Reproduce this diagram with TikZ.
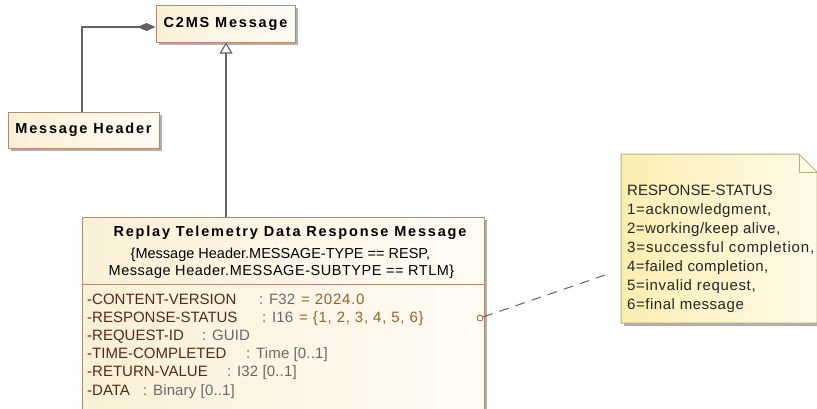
\documentclass[tikz,border=0pt]{standalone}
\usepackage{fontspec}
\setmainfont{Liberation Sans}
\newfontfamily\spfont[LetterSpace=12.5]{Liberation Sans}
\usetikzlibrary{arrows.meta,shadows}
\definecolor{boxL}{RGB}{251,240,214}
\definecolor{boxR}{RGB}{255,252,246}
\definecolor{boxB}{RGB}{178,140,110}
\definecolor{noteL}{RGB}{252,238,176}
\definecolor{noteR}{RGB}{255,251,234}
\definecolor{noteB}{RGB}{190,175,120}
\definecolor{lineg}{RGB}{100,100,100}
\definecolor{namec}{RGB}{90,40,25}
\definecolor{typec}{RGB}{105,105,105}
\definecolor{valc}{RGB}{160,95,40}
\definecolor{shad}{RGB}{175,175,175}
\tikzset{
  umlbox/.style={draw=boxB, line width=1pt, left color=boxL, right color=boxR, inner sep=0pt,
    drop shadow={shadow xshift=3pt, shadow yshift=-3pt, fill=shad, opacity=1}},
  titlef/.style={font={\spfont\bfseries\fontsize{14.5}{17}\selectfont}, text=black},
  regf/.style={font={\fontsize{14.5}{17}\selectfont\addfontfeature{LetterSpace=#1}}, inner sep=0pt, anchor=base},
  regf/.default=0,
  attrn/.style={font={\fontsize{15}{17}\selectfont}, text=namec, inner sep=0pt, anchor=base west},
  attrt/.style={font={\fontsize{15}{17}\selectfont\addfontfeature{LetterSpace=1}}, text=typec, inner sep=0pt, anchor=base west},
  attrv/.style={font={\fontsize{15}{17}\selectfont\addfontfeature{LetterSpace=5}}, text=valc, inner sep=0pt, anchor=base west},
  notet/.style={font={\fontsize{15}{17}\selectfont\addfontfeature{LetterSpace=#1}}, text=black!85, inner sep=0pt, anchor=base west},
  notet/.default=0,
  conn/.style={draw=lineg, line width=1.1pt},
}
\begin{document}
\begin{tikzpicture}[x=1pt,y=-1pt]
\useasboundingbox (0,0) rectangle (817,408);
% boxes
\node[umlbox, titlef, minimum width=139pt, minimum height=37pt] (c2ms) at (225.5,23.5) {C2MS Message};
\node[umlbox, titlef, minimum width=151pt, minimum height=36pt] (mh) at (83.5,130) {Message Header};
\node[umlbox, minimum width=402pt, minimum height=200pt] (rep) at (283,317) {};
\coordinate (sepy) at (0,284);
\draw[boxB, line width=1pt] (rep.west |- sepy) -- (rep.east |- sepy);
\node[titlef, inner sep=0pt, anchor=base] (rt) at (290,236.5) {Replay Telemetry Data Response Message};
\node[regf] (c1) at (280.5,258) {\{Message Header.MESSAGE-TYPE == RESP,};
\node[regf=3.7] (c2) at (281.5,275) {Message Header.MESSAGE-SUBTYPE == RTLM\}};
% attributes
\node[attrn] (a1) at (87,304.5) {-CONTENT-VERSION};
\node[attrt] (t1) at (259,304.5) {: F32};
\node[attrv] (v1) at (301,304.5) {= 2024.0};
\node[attrn] (a2) at (87,322.6) {-RESPONSE-STATUS};
\node[attrt] (t2) at (262,322.6) {: I16};
\node[attrv] (v2) at (299,322.6) {= \{1, 2, 3, 4, 5, 6\}};
\node[attrn] (a3) at (87,340.7) {-REQUEST-ID};
\node[attrt] (t3) at (202,340.7) {: GUID};
\node[attrn] (a4) at (87,358.8) {-TIME-COMPLETED};
\node[attrt] (t4) at (246,358.8) {: Time [0..1]};
\node[attrn] (a5) at (87,376.9) {-RETURN-VALUE};
\node[attrt] (t5) at (227,376.9) {: I32 [0..1]};
\node[attrn] (a6) at (87,395) {-DATA};
\node[attrt] (t6) at (143,395) {: Binary [0..1]};
% note
\fill[shad] (624,157) -- (802,157) -- (820,175) -- (820,326) -- (624,326) -- cycle;
\shade[left color=noteL, right color=noteR] (621,154) -- (799,154) -- (817,172) -- (817,323) -- (621,323) -- cycle;
\draw[noteB, line width=1pt] (621,154) -- (799,154) -- (817,172) -- (817,323) -- (621,323) -- cycle;
\draw[noteB, line width=1pt] (799,154) -- (799,172) -- (817,172);
\node[notet] (n0) at (627,195.2) {RESPONSE-STATUS};
\node[notet=4.3] (n1) at (627,214.2) {1=acknowledgment,};
\node[notet=3] (n2) at (627,233.2) {2=working/keep alive,};
\node[notet=5.8] (n3) at (627,252.2) {3=successful completion,};
\node[notet=2.7] (n4) at (627,271.2) {4=failed completion,};
\node[notet=4.4] (n5) at (627,290.2) {5=invalid request,};
\node[notet=3.6] (n6) at (627,309.2) {6=final message};
% connectors
\coordinate (bend) at (82,27);
\draw[conn, -{Diamond[length=18pt,width=8pt]}] (mh.north -| bend) -- (bend) -- (c2ms.west |- bend);
\coordinate (gx) at (226,0);
\draw[conn, -{Triangle[open,length=11pt,width=13pt,fill=white]}] (rep.north -| gx) -- (c2ms.south -| gx);
\node[circle, draw=valc, fill=boxR, line width=0.8pt, minimum size=6pt, inner sep=0pt] (port) at (480,318) {};
\coordinate (nend) at (608,274);
\draw[conn, line width=1pt, dash pattern=on 10pt off 7pt] (port) -- (nend);
\end{tikzpicture}
\end{document}
